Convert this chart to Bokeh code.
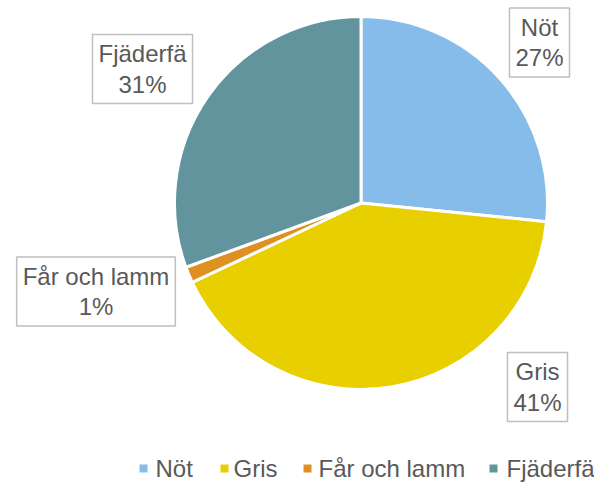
import numpy as np
from bokeh.plotting import figure
from bokeh.models import Range1d, ColumnDataSource
from bokeh.core.properties import value
from bokeh.embed import file_html
from bokeh.resources import INLINE

# ---- data ----
categories = ["Nöt", "Gris", "Får och lamm", "Fjäderfä"]
shares = [26.6, 41.4, 1.4, 30.6]
colors = ["#86BCEA", "#E8CF00", "#DE9120", "#62949D"]

# ---- layout constants (pixel-based plot coordinates) ----
W, H = 594, 483
CX, CY, R = 360.5, H - 202.5, 186.5
label_pos = [(539, H - 42), (537, H - 386.5), (95.5, H - 291), (142, H - 68.5)]
legend_sq_x = [143, 224, 307, 493]
legend_tx_x = [155, 233, 318, 506]
legend_y = H - 468
FONT = "Liberation Sans"
TXT = "#595959"

p = figure(width=W, height=H, x_range=Range1d(0, W), y_range=Range1d(0, H),
           output_backend="svg", toolbar_location=None, min_border=0)
p.axis.visible = False
p.grid.visible = False
p.outline_line_color = None

total = sum(shares)
fr = np.array(shares) / total
cum = np.concatenate([[0], np.cumsum(fr)])
start = np.pi / 2 - cum[:-1] * 2 * np.pi
end = np.pi / 2 - cum[1:] * 2 * np.pi

src = ColumnDataSource(dict(start=start, end=end, color=colors))
p.wedge(x=CX, y=CY, radius=R, start_angle="start", end_angle="end",
        direction="clock", fill_color="color", line_color="white",
        line_width=3, source=src)

labels = [f"{c}\n{round(s / total * 100)}%" for c, s in zip(categories, shares)]
lsrc = ColumnDataSource(dict(x=[q[0] for q in label_pos], y=[q[1] for q in label_pos], t=labels))
p.text(x="x", y="y", text="t", source=lsrc, text_align="center",
       text_baseline="middle", text_font=value(FONT), text_font_size="24px",
       text_color=TXT, text_line_height=1.12, border_line_color="#BFBFBF",
       border_line_width=1.5, background_fill_color="white", padding=6)

# legend
p.scatter(x=legend_sq_x, y=[legend_y] * 4, marker="square", size=8,
          fill_color=colors, line_color=None)
p.text(x=legend_tx_x, y=[legend_y] * 4, text=categories, text_align="left",
       text_baseline="middle", text_font=value(FONT), text_font_size="24px",
       text_color=TXT)

open("out.html", "w").write(file_html(p, INLINE))
